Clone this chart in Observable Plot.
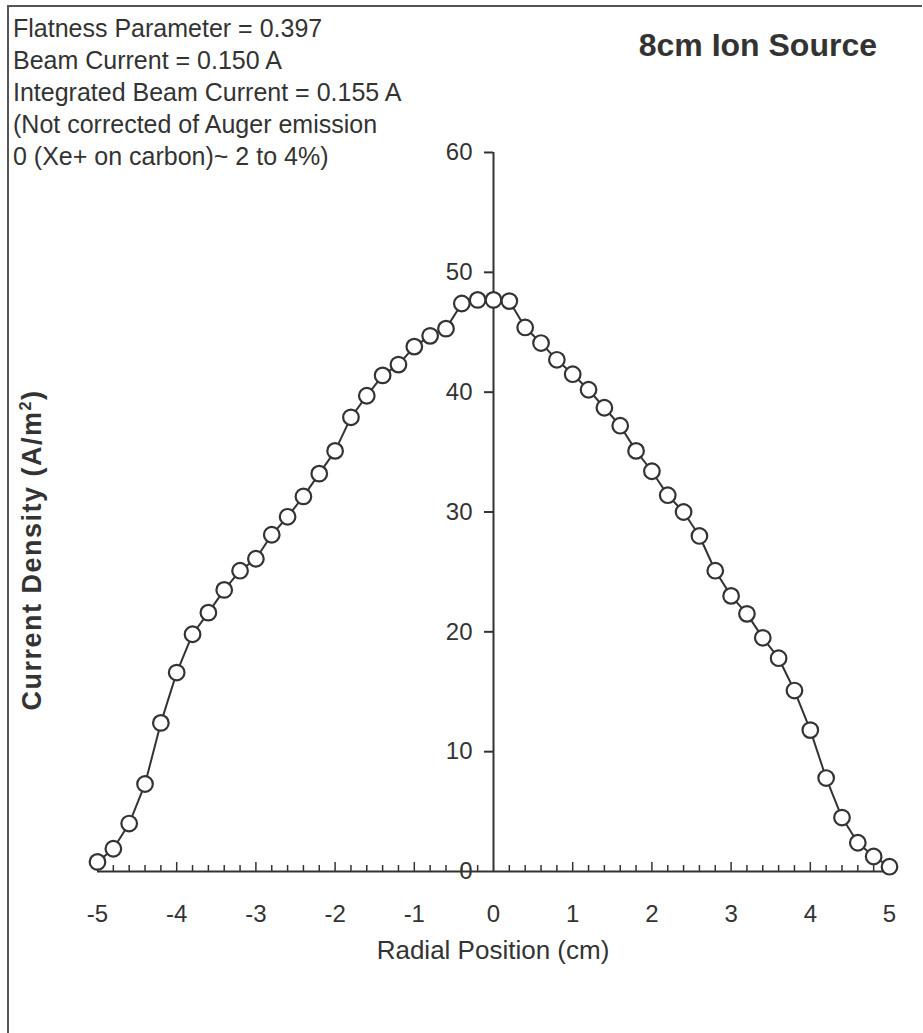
<!DOCTYPE html>
<html>
<head>
<meta charset="utf-8">
<script src="https://cdn.jsdelivr.net/npm/d3@7"></script>
<script src="https://cdn.jsdelivr.net/npm/@observablehq/plot@0.6"></script>
<style>
  html, body { margin: 0; padding: 0; background: #fff; }
  #wrap { position: relative; width: 923px; height: 1033px; overflow: hidden; font-family: "Liberation Sans", Arial, sans-serif; color: #333; }
  #wrap svg { position: absolute; left: 0; top: 0; }
  .frame { position: absolute; left: 7px; top: 5px; width: 913px; height: 1040px; border-left: 2px solid #555; border-top: 2px solid #555; }
  .notes { position: absolute; left: 13px; top: 12px; font-size: 25px; line-height: 32px; white-space: nowrap; color: #333; }
  .title { position: absolute; right: 46px; top: 27px; font-size: 32px; font-weight: bold; color: #333; white-space: nowrap; }
  .xlabel { position: absolute; left: 0; width: 1000px; top: 935px; text-align: center; font-size: 26px; color: #333; transform: translateX(-7px); }
  .ylabel { position: absolute; left: 32px; top: 550px; font-size: 27px; letter-spacing: 1.5px; font-weight: bold; color: #333; white-space: nowrap; transform: translate(-50%, -50%) rotate(-90deg); }
</style>
</head>
<body>
<div id="wrap">
  <div class="frame"></div>
  <div class="notes" id="notes"></div>
  <div class="title" id="title"></div>
  <div class="xlabel" id="xlabel"></div>
  <div class="ylabel" id="ylabel"></div>
</div>
<script>
// ---- data ----
const positions = [-5.0, -4.8, -4.6, -4.4, -4.2, -4.0, -3.8, -3.6, -3.4, -3.2,
                   -3.0, -2.8, -2.6, -2.4, -2.2, -2.0, -1.8, -1.6, -1.4, -1.2,
                   -1.0, -0.8, -0.6, -0.4, -0.2, 0.0, 0.2, 0.4, 0.6, 0.8,
                   1.0, 1.2, 1.4, 1.6, 1.8, 2.0, 2.2, 2.4, 2.6, 2.8,
                   3.0, 3.2, 3.4, 3.6, 3.8, 4.0, 4.2, 4.4, 4.6, 4.8, 5.0];
const densities = [0.8, 1.9, 4.0, 7.3, 12.4, 16.6, 19.8, 21.6, 23.5, 25.1,
                   26.1, 28.1, 29.6, 31.3, 33.2, 35.1, 37.9, 39.7, 41.4, 42.3,
                   43.8, 44.7, 45.3, 47.4, 47.7, 47.7, 47.6, 45.4, 44.1, 42.7,
                   41.5, 40.2, 38.7, 37.2, 35.1, 33.4, 31.4, 30.0, 28.0, 25.1,
                   23.0, 21.5, 19.5, 17.8, 15.1, 11.8, 7.8, 4.5, 2.4, 1.25, 0.4];
const xTickLabels = [-5, -4, -3, -2, -1, 0, 1, 2, 3, 4, 5];
const yTickLabels = [0, 10, 20, 30, 40, 50, 60];
const noteLines = [
  "Flatness Parameter = 0.397",
  "Beam Current = 0.150 A",
  "Integrated Beam Current = 0.155 A",
  "(Not corrected of Auger emission",
  "0 (Xe+ on carbon)~ 2 to 4%)"
];
const titleText = "8cm Ion Source";
const xLabelText = "Radial Position (cm)";
const yLabelHTML = "Current Density (A/m<sup style=\"font-size:0.6em\">2</sup>)";

// ---- derived ----
const data = positions.map((x, i) => ({x, y: densities[i]}));
const minorTicks = d3.range(-50, 51, 2).map(v => v / 10).filter(v => !xTickLabels.includes(v));
const majorTicks = xTickLabels.filter(v => v !== 0);

document.getElementById("notes").innerHTML = noteLines.map(s => `<div>${s}</div>`).join("");
document.getElementById("title").textContent = titleText;
document.getElementById("xlabel").textContent = xLabelText;
document.getElementById("ylabel").innerHTML = yLabelHTML;

const ink = "#333";
const chart = Plot.plot({
  width: 923,
  height: 1033,
  marginLeft: 97,
  marginRight: 34,
  marginTop: 152,
  marginBottom: 162,
  x: {domain: [-5, 5]},
  y: {domain: [0, 60], axis: null},
  style: {fontFamily: "'Liberation Sans', Arial, sans-serif", color: ink, background: "transparent"},
  marks: [
    Plot.axisX(xTickLabels, {tickSize: 0, tickPadding: 33, fontSize: 24, tickFormat: d => String(d), label: null, fill: ink}),
    Plot.ruleY([0], {stroke: ink, strokeWidth: 2}),
    Plot.ruleX(minorTicks, {y1: 0, y2: 0, insetTop: -6, stroke: ink, strokeWidth: 1.5}),
    Plot.ruleX(majorTicks, {y1: 0, y2: 0, insetTop: -9, stroke: ink, strokeWidth: 1.5}),
    Plot.ruleX([0], {y1: 0, y2: 60, stroke: ink, strokeWidth: 2}),
    Plot.ruleY(yTickLabels.filter(v => v !== 0), {x1: 0, x2: 0, insetLeft: -9, stroke: ink, strokeWidth: 2}),
    Plot.text(yTickLabels, {x: 0, y: d => d, text: d => String(d), textAnchor: "end", dx: -21, fontSize: 24, fill: ink}),
    Plot.line(data, {x: "x", y: "y", stroke: ink, strokeWidth: 2}),
    Plot.dot(data, {x: "x", y: "y", r: 7.8, fill: "white", stroke: ink, strokeWidth: 2.2})
  ]
});
document.getElementById("wrap").appendChild(chart);
</script>
</body>
</html>
